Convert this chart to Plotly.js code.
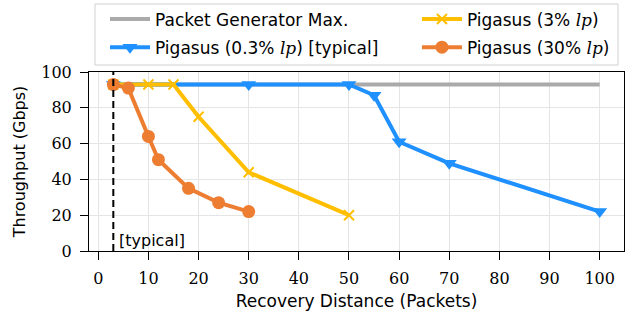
<!DOCTYPE html>
<html><head><meta charset="utf-8">
<script src="https://cdn.plot.ly/plotly-3.0.1.min.js"></script>
<style>html,body{margin:0;padding:0;background:#fff;}#chart{width:629px;height:318px;}</style>
</head><body><div id="chart"></div>
<script>
// Data
const genX = [3, 100];
const genY = [93, 93];
const p03X = [3, 30, 50, 55, 60, 70, 100];
const p03Y = [93, 93, 93, 87, 61, 49, 22];
const p3X = [3, 10, 15, 20, 30, 50];
const p3Y = [93, 93, 93, 75, 44, 20];
const p30X = [3, 6, 10, 12, 18, 24, 30];
const p30Y = [93, 91, 64, 51, 35, 27, 22];
const typicalX = 3;
const xTicks = [0,10,20,30,40,50,60,70,80,90,100];
const yTicks = [0,20,40,60,80,100];

const sans = "DejaVu Sans, sans-serif";
const serif = "DejaVu Serif, serif";
const lp = "<i style=\"font-family:'DejaVu Serif'\">lp</i>";

const traces = [
  {x: genX, y: genY, name: "Packet Generator Max.", mode: "lines",
   line: {color: "#aaaaaa", width: 4}, legend: "legend", legendgroup: "a", legendrank: 1},
  {x: p03X, y: p03Y, name: "Pigasus (0.3% " + lp + ") [typical]", mode: "lines+markers",
   line: {color: "#1e90ff", width: 4}, marker: {symbol: "triangle-down", size: 13, color: "#1e90ff"},
   legend: "legend", legendgroup: "b", legendrank: 2},
  {x: p3X, y: p3Y, name: "Pigasus (3% " + lp + ")", mode: "lines+markers",
   line: {color: "#ffbf00", width: 4}, marker: {symbol: "x-thin", size: 10, color: "#ffbf00", line: {color: "#ffbf00", width: 2}},
   legend: "legend2", legendgroup: "c", legendrank: 1},
  {x: p30X, y: p30Y, name: "Pigasus (30% " + lp + ")", mode: "lines+markers",
   line: {color: "#ed7d31", width: 4}, marker: {symbol: "circle", size: 13, color: "#ed7d31"},
   legend: "legend2", legendgroup: "d", legendrank: 2}
];

const legendCommon = {orientation: "v", yanchor: "top", xanchor: "left", yref: "container",
  bgcolor: "rgba(0,0,0,0)", borderwidth: 0, tracegroupgap: 3, itemwidth: 40,
  font: {family: sans, size: 17, color: "#000"}};

const layout = {
  width: 629, height: 318,
  margin: {l: 89, r: 5, t: 72, b: 67},
  paper_bgcolor: "#fff", plot_bgcolor: "#fff",
  showlegend: true,
  legend: Object.assign({}, legendCommon, {x: 0.0299, y: 0.9953}),
  legend2: Object.assign({}, legendCommon, {x: 0.613, y: 0.9953}),
  xaxis: {range: [-1.85, 104.85], tickvals: xTicks, ticktext: xTicks.map(String),
    showgrid: true, gridcolor: "#e5e5e5", gridwidth: 1, zeroline: false,
    showline: true, linecolor: "#000", linewidth: 1, mirror: true,
    ticks: "outside", ticklen: 8, tickcolor: "#000", ticklabelstandoff: 5,
    tickfont: {family: serif, size: 16, color: "#000"},
    title: {text: "Recovery Distance (Packets)", font: {family: sans, size: 17, color: "#000"}, standoff: 7}},
  yaxis: {range: [0, 100], tickvals: yTicks, ticktext: yTicks.map(String),
    showgrid: true, gridcolor: "#e5e5e5", gridwidth: 1, zeroline: false,
    showline: true, linecolor: "#000", linewidth: 1, mirror: true,
    ticks: "outside", ticklen: 8, tickcolor: "#000", ticklabelstandoff: 5,
    tickfont: {family: serif, size: 16, color: "#000"},
    title: {text: "Throughput (Gbps)", font: {family: sans, size: 16, color: "#000"}, standoff: 11}},
  shapes: [
    {type: "rect", xref: "paper", yref: "paper", x0: 0.0112, x1: 0.9888, y0: 1.039, y1: 1.380,
     line: {color: "#d0d0d0", width: 1}, fillcolor: "#fff", layer: "below"},
    {type: "line", xref: "x", yref: "y", x0: typicalX, x1: typicalX, y0: 0, y1: 100,
     line: {color: "#000", width: 2, dash: "7px,4px"}, layer: "above"}],
  annotations: [{x: typicalX, y: 6, xref: "x", yref: "y", text: "[typical]", showarrow: false,
    xanchor: "left", yanchor: "middle", xshift: 4,
    font: {family: sans, size: 16, color: "#000"}}]
};

Plotly.newPlot("chart", traces, layout, {displayModeBar: false, staticPlot: true});
</script>
</body></html>
